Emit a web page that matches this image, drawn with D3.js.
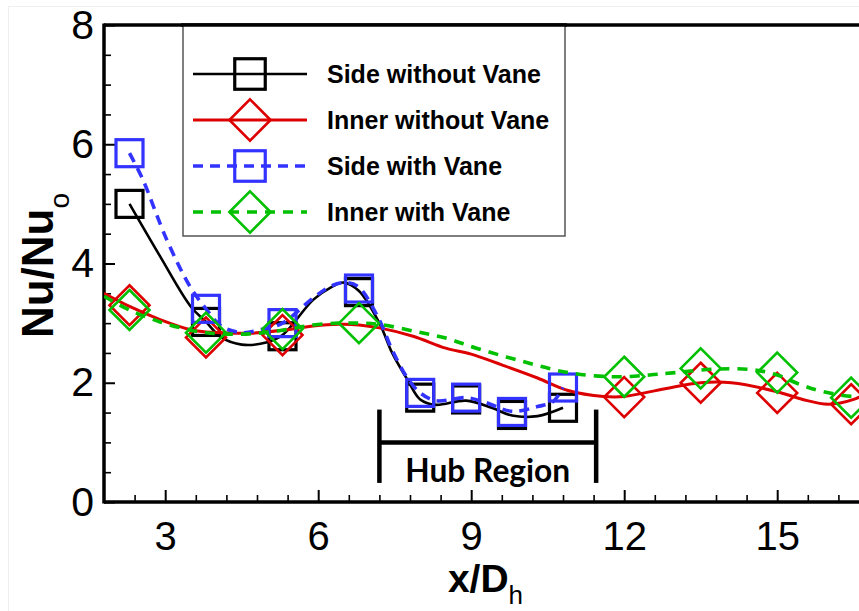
<!DOCTYPE html>
<html>
<head>
<meta charset="utf-8">
<script src="https://cdn.jsdelivr.net/npm/d3@7"></script>
<style>
  html, body { margin: 0; padding: 0; background: #fff; }
  svg { display: block; }
</style>
</head>
<body>
<svg id="chart" width="859" height="611"></svg>
<script>
// ---------------- DATA ----------------
const xTicks = [3, 6, 9, 12, 15];
const yTicks = [0, 2, 4, 6, 8];
const xMinorTicks = [2.4, 3.6, 4.2, 4.8, 5.4, 6.6, 7.2, 7.8, 8.4, 9.6, 10.2, 10.8, 11.4, 12.6, 13.2, 13.8, 14.4, 15.6, 16.2];
const yMinorTicks = [0.5, 1, 1.5, 2.5, 3, 3.5, 4.5, 5, 5.5, 6.5, 7, 7.5];

const seriesNames = ["Side without Vane", "Inner without Vane", "Side with Vane", "Inner with Vane"];

// Side without Vane (curve + square markers)
const sideNoVaneX = [2.3, 2.9, 3.5, 3.8, 4.1, 4.5, 5.0, 5.3, 5.9, 6.25, 6.5, 6.8, 7.2, 7.45, 7.75, 8.0, 8.3, 8.9, 9.4, 9.8, 10.3, 10.8];
const sideNoVaneY = [5.0, 4.12, 3.28, 3.02, 2.76, 2.64, 2.68, 2.8, 3.39, 3.6, 3.68, 3.54, 3.0, 2.5, 2.05, 1.72, 1.63, 1.7, 1.58, 1.45, 1.44, 1.58];
const sideNoVaneMarkX = [2.3, 3.8, 5.3, 6.8, 8.0, 8.9, 9.8, 10.8];
const sideNoVaneMarkY = [5.0, 3.02, 2.78, 3.52, 1.75, 1.72, 1.46, 1.58];

// Inner without Vane (curve + diamond markers)
const innerNoVaneX = [1.8, 2.3, 2.9, 3.5, 3.8, 4.1, 4.66, 5.3, 5.64, 5.9, 6.4, 6.8, 7.2, 7.86, 8.5, 9.0, 9.6, 10.3, 10.9, 11.6, 12.0, 12.8, 13.5, 14.1, 15.0, 15.5, 16.0, 16.5, 16.8];
const innerNoVaneY = [3.5, 3.28, 3.06, 2.89, 2.85, 2.84, 2.83, 2.88, 2.92, 2.95, 2.98, 2.97, 2.92, 2.78, 2.58, 2.48, 2.3, 2.08, 1.87, 1.77, 1.77, 1.9, 2.0, 2.0, 1.85, 1.72, 1.64, 1.72, 1.85];
const innerNoVaneMarkX = [2.3, 3.8, 5.3, 12.0, 13.5, 15.0, 16.45];
const innerNoVaneMarkY = [3.3, 2.76, 2.8, 1.76, 2.0, 1.83, 1.64];

// Side with Vane (curve + square markers)
const sideVaneX = [2.3, 2.56, 3.03, 3.49, 3.8, 4.1, 4.5, 5.0, 5.3, 5.9, 6.25, 6.55, 6.8, 7.2, 7.45, 7.75, 8.0, 8.3, 8.9, 9.25, 9.8, 10.3, 10.6, 10.8];
const sideVaneY = [5.85, 5.41, 4.4, 3.61, 3.24, 2.95, 2.84, 2.92, 3.0, 3.42, 3.62, 3.68, 3.6, 3.05, 2.55, 2.08, 1.83, 1.7, 1.75, 1.68, 1.52, 1.6, 1.68, 1.92];
const sideVaneMarkX = [2.3, 3.8, 5.3, 6.8, 8.0, 8.9, 9.8, 10.8];
const sideVaneMarkY = [5.85, 3.24, 3.0, 3.58, 1.83, 1.75, 1.51, 1.92];

// Inner with Vane (curve + diamond markers)
const innerVaneX = [1.8, 2.3, 2.9, 3.5, 3.8, 4.1, 4.66, 5.3, 5.9, 6.4, 6.8, 7.2, 7.9, 8.5, 9.1, 10.0, 10.9, 11.8, 12.5, 13.0, 13.8, 14.5, 15.0, 15.45, 15.9, 16.5, 16.8];
const innerVaneY = [3.45, 3.22, 3.02, 2.88, 2.84, 2.82, 2.82, 2.88, 2.97, 3.0, 3.0, 2.98, 2.86, 2.75, 2.58, 2.36, 2.17, 2.1, 2.13, 2.17, 2.23, 2.22, 2.13, 1.97, 1.85, 1.77, 1.8];
const innerVaneMarkX = [2.3, 3.8, 5.3, 6.8, 12.0, 13.5, 15.0, 16.45];
const innerVaneMarkY = [3.22, 2.84, 2.9, 3.0, 2.1, 2.24, 2.17, 1.75];

// Hub region annotation (data units)
const hubStartX = 7.2, hubEndX = 11.45, hubBarY = 1.0, hubTickLow = 0.32, hubTickHigh = 1.55;
const hubLabel = "Hub Region";

// ---------------- LAYOUT ----------------
const svg = d3.select("#chart");
const plot = { left: 104, right: 869, top: 25, bottom: 502 };

const x = d3.scaleLinear().domain([1.8, 16.8]).range([plot.left, plot.right]);
const y = d3.scaleLinear().domain([0, 8]).range([plot.bottom, plot.top]);

const styles = [
  { color: "#000000", width: 2.6, dash: null, marker: "square" },
  { color: "#dd0000", width: 3, dash: null, marker: "diamond" },
  { color: "#3333ff", width: 3.6, dash: "10,7", marker: "square" },
  { color: "#00c000", width: 3.6, dash: "10,8", marker: "diamond" }
];

const series = [
  { name: seriesNames[0], xs: sideNoVaneX, ys: sideNoVaneY, mx: sideNoVaneMarkX, my: sideNoVaneMarkY },
  { name: seriesNames[1], xs: innerNoVaneX, ys: innerNoVaneY, mx: innerNoVaneMarkX, my: innerNoVaneMarkY },
  { name: seriesNames[2], xs: sideVaneX, ys: sideVaneY, mx: sideVaneMarkX, my: sideVaneMarkY },
  { name: seriesNames[3], xs: innerVaneX, ys: innerVaneY, mx: innerVaneMarkX, my: innerVaneMarkY }
];

// faint outer border
svg.append("rect").attr("x", 8.5).attr("y", 6.5).attr("width", 900).attr("height", 700)
  .attr("fill", "none").attr("stroke", "#efefef").attr("stroke-width", 1);

// clip
svg.append("defs").append("clipPath").attr("id", "clip")
  .append("rect").attr("x", plot.left).attr("y", plot.top)
  .attr("width", plot.right - plot.left).attr("height", plot.bottom - plot.top);

// ---------------- AXES ----------------
const tickFont = "'Liberation Sans', Arial, sans-serif";

const xAxis = svg.append("g").attr("transform", `translate(0,${plot.bottom})`)
  .call(d3.axisBottom(x).tickValues(xTicks).tickSize(-12).tickPadding(20).tickFormat(d3.format("d")));
xAxis.select(".domain").remove();
xAxis.selectAll(".tick line").attr("stroke", "#000").attr("stroke-width", 2);
xAxis.selectAll(".tick text").attr("font-family", tickFont).attr("font-size", 40).attr("fill", "#000");

const xMinor = svg.append("g").attr("transform", `translate(0,${plot.bottom})`)
  .call(d3.axisBottom(x).tickValues(xMinorTicks).tickSize(-7).tickFormat(""));
xMinor.select(".domain").remove();
xMinor.selectAll(".tick line").attr("stroke", "#000").attr("stroke-width", 1.6);

const yAxis = svg.append("g").attr("transform", `translate(${plot.left},0)`)
  .call(d3.axisLeft(y).tickValues(yTicks).tickSize(-11).tickPadding(10).tickFormat(d3.format("d")));
yAxis.select(".domain").remove();
yAxis.selectAll(".tick line").attr("stroke", "#000").attr("stroke-width", 2);
yAxis.selectAll(".tick text").attr("font-family", tickFont).attr("font-size", 41).attr("fill", "#000");

const yMinor = svg.append("g").attr("transform", `translate(${plot.left},0)`)
  .call(d3.axisLeft(y).tickValues(yMinorTicks).tickSize(-7).tickFormat(""));
yMinor.select(".domain").remove();
yMinor.selectAll(".tick line").attr("stroke", "#000").attr("stroke-width", 1.6);

// frame (left, bottom, top)
const frame = svg.append("g").attr("stroke", "#000").attr("stroke-width", 3.5).attr("fill", "none");
frame.append("line").attr("x1", plot.left).attr("x2", plot.left).attr("y1", plot.top - 1.5).attr("y2", plot.bottom + 1.5);
frame.append("line").attr("x1", plot.left).attr("x2", plot.right).attr("y1", plot.bottom).attr("y2", plot.bottom);
frame.append("line").attr("x1", plot.left).attr("x2", plot.right).attr("y1", plot.top).attr("y2", plot.top);

// axis titles
const labelFont = "'Liberation Sans', Arial, sans-serif";
const yTitle = svg.append("text")
  .attr("transform", `translate(53,${(plot.top + plot.bottom) / 2 + 2}) rotate(-90)`)
  .attr("text-anchor", "middle")
  .attr("font-family", labelFont).attr("font-size", 44).attr("font-weight", "bold").attr("fill", "#000");
yTitle.append("tspan").text("Nu/Nu");
yTitle.append("tspan").attr("dy", 16).attr("font-size", 28).attr("font-weight", "normal").text("o");

const xTitle = svg.append("text")
  .attr("x", (plot.left + 859) / 2 + 4).attr("y", 592)
  .attr("text-anchor", "middle")
  .attr("font-family", labelFont).attr("font-size", 39).attr("font-weight", "bold").attr("fill", "#000");
xTitle.append("tspan").text("x/D");
xTitle.append("tspan").attr("dy", 12).attr("font-size", 26).attr("font-weight", "normal").text("h");

// ---------------- MARKERS ----------------
function drawMarker(g, cx, cy, type, color, scale) {
  const s = scale || 1;
  if (type === "square") {
    const a = 27 * s;
    g.append("rect").attr("x", cx - a / 2).attr("y", cy - a / 2).attr("width", a).attr("height", a)
      .attr("fill", "none").attr("stroke", color).attr("stroke-width", 3.2);
  } else {
    const r = 20 * s;
    g.append("path").attr("d", `M${cx},${cy - r}L${cx + r},${cy}L${cx},${cy + r}L${cx - r},${cy}Z`)
      .attr("fill", "none").attr("stroke", color).attr("stroke-width", 2.6);
  }
}

// ---------------- SERIES ----------------
const line = d3.line().x(d => x(d[0])).y(d => y(d[1])).curve(d3.curveCatmullRom.alpha(0.5));
const plotG = svg.append("g").attr("clip-path", "url(#clip)");

series.forEach((s, i) => {
  const st = styles[i];
  const g = plotG.append("g");
  const pts = s.xs.map((v, k) => [v, s.ys[k]]);
  g.append("path").datum(pts).attr("d", line)
    .attr("fill", "none").attr("stroke", st.color).attr("stroke-width", st.width)
    .attr("stroke-dasharray", st.dash).attr("stroke-linejoin", "round");
  s.mx.forEach((v, k) => drawMarker(g, x(v), y(s.my[k]), st.marker, st.color, 1));
});

// ---------------- HUB REGION ----------------
const hub = svg.append("g").attr("stroke", "#000").attr("stroke-width", 4.5);
hub.append("line").attr("x1", x(hubStartX)).attr("x2", x(hubStartX)).attr("y1", y(hubTickHigh)).attr("y2", y(hubTickLow));
hub.append("line").attr("x1", x(hubEndX)).attr("x2", x(hubEndX)).attr("y1", y(hubTickHigh)).attr("y2", y(hubTickLow));
hub.append("line").attr("x1", x(hubStartX)).attr("x2", x(hubEndX)).attr("y1", y(hubBarY)).attr("y2", y(hubBarY));
const hubText = svg.append("text")
  .attr("x", (x(hubStartX) + x(hubEndX)) / 2).attr("y", 482)
  .attr("text-anchor", "middle")
  .attr("font-family", "Lato, 'Open Sans', sans-serif").attr("font-weight", "bold")
  .attr("font-size", 28).attr("fill", "#000").text(hubLabel);
const hw = hubText.node().getComputedTextLength();
hubText.attr("font-size", 28 * 165 / hw);

// ---------------- LEGEND ----------------
const leg = { x0: 183, y0: plot.top, x1: 565, y1: 236 };
svg.append("rect").attr("x", leg.x0).attr("y", leg.y0).attr("width", leg.x1 - leg.x0).attr("height", leg.y1 - leg.y0)
  .attr("fill", "#fff").attr("stroke", "#555").attr("stroke-width", 1.5);
// redraw top frame over legend border
svg.append("line").attr("x1", leg.x0 - 2).attr("x2", leg.x1 + 2).attr("y1", plot.top).attr("y2", plot.top)
  .attr("stroke", "#000").attr("stroke-width", 3.5);

const legRows = [74, 120, 166, 212];
series.forEach((s, i) => {
  const st = styles[i];
  const g = svg.append("g");
  const ly = legRows[i];
  g.append("line").attr("x1", 193).attr("x2", 307).attr("y1", ly).attr("y2", ly)
    .attr("stroke", st.color).attr("stroke-width", st.width).attr("stroke-dasharray", st.dash);
  drawMarker(g, 250, ly, st.marker, st.color, st.marker === "square" ? 1.13 : 1.03);
  g.append("text").attr("x", 327).attr("y", ly + 9)
    .attr("font-family", labelFont).attr("font-weight", "bold").attr("font-size", 25)
    .attr("fill", "#000").text(s.name);
});
</script>
</body>
</html>
